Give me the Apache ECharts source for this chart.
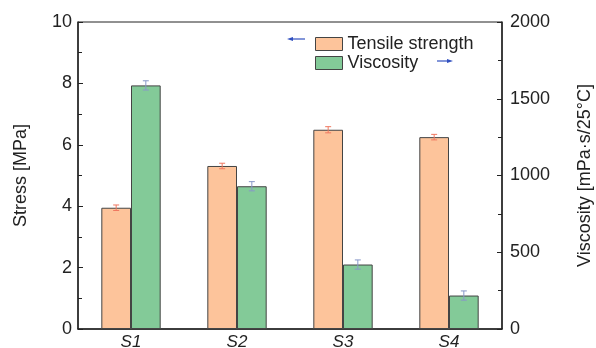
<!DOCTYPE html>
<html><head><meta charset="utf-8">
<script src="https://cdn.jsdelivr.net/npm/echarts@6/dist/echarts.min.js"></script>
<style>html,body{margin:0;padding:0;background:#fff}#c{width:596px;height:348px}</style>
</head><body><div id="c"></div>
<script>
var categories = ['S1', 'S2', 'S3', 'S4'];
var tensile = [3.95, 5.31, 6.49, 6.25];
var tensileErr = [0.09, 0.09, 0.1, 0.09];
var viscosity = [1587, 930, 420, 218];
var viscosityErr = [30, 30, 30, 30];
var leftTicks = [0, 2, 4, 6, 8, 10];
var rightTicks = [0, 500, 1000, 1500, 2000];

var font = 'Liberation Sans, Arial, sans-serif';
var chart = echarts.init(document.getElementById('c'));

function errSeries(vals, errs, axisIdx, sign, color) {
  return {
    type: 'custom', yAxisIndex: axisIdx, z: 10,
    data: vals.map(function (v, i) { return [i, v, errs[i]]; }),
    renderItem: function (params, api) {
      var i = api.value(0), v = api.value(1), e = api.value(2);
      var band = api.size([1, 0])[0];
      var off = sign * band * 0.14;
      var hi = api.coord([i, v + e]), lo = api.coord([i, v - e]);
      var x = hi[0] + off, cap = 3;
      var st = { stroke: color, lineWidth: 1 };
      return { type: 'group', children: [
        { type: 'line', shape: { x1: x, y1: hi[1], x2: x, y2: lo[1] }, style: st },
        { type: 'line', shape: { x1: x - cap, y1: hi[1], x2: x + cap, y2: hi[1] }, style: st },
        { type: 'line', shape: { x1: x - cap, y1: lo[1], x2: x + cap, y2: lo[1] }, style: st }
      ]};
    }
  };
}

function arrow(x1, x2, y) {
  var dir = x2 > x1 ? 1 : -1;
  return { type: 'group', children: [
    { type: 'line', shape: { x1: x1, y1: y, x2: x2 - dir * 4, y2: y }, style: { stroke: '#3050c0', lineWidth: 1.2 } },
    { type: 'polygon', shape: { points: [[x2, y], [x2 - dir * 6, y - 2], [x2 - dir * 6, y + 2]] }, style: { fill: '#3050c0' } }
  ]};
}

chart.setOption({
  animation: false,
  textStyle: { fontFamily: font },
  grid: { left: 78, right: 94, top: 22, bottom: 19, show: true, borderColor: '#222', borderWidth: 1,
    containLabel: false, outerBoundsMode: 'none' },
  legend: {
    orient: 'vertical', left: 310, top: 30, itemWidth: 27, itemHeight: 13, itemGap: 1,
    icon: 'rect',
    textStyle: { fontSize: 18, color: '#222', fontFamily: font },
    itemStyle: { borderColor: '#444', borderWidth: 1 },
    data: ['Tensile strength', 'Viscosity']
  },
  xAxis: {
    type: 'category', data: categories,
    axisLine: { lineStyle: { color: '#222', width: 1.5 } },
    axisTick: { inside: true, length: 3, lineStyle: { color: '#222' } },
    axisLabel: { fontSize: 17, fontStyle: 'italic', color: '#222', margin: 5, fontFamily: font }
  },
  yAxis: [{
    type: 'value', min: 0, max: 10, interval: 2,
    name: 'Stress [MPa]', nameLocation: 'middle', nameGap: 48,
    nameTextStyle: { fontSize: 18, color: '#222', fontFamily: font },
    axisLine: { show: true, lineStyle: { color: '#222', width: 1.5 } },
    axisTick: { show: true, inside: true, length: 5, lineStyle: { color: '#222' } },
    minorTick: { show: true, splitNumber: 2, length: 4, lineStyle: { color: '#222' } },
    splitLine: { show: false },
    axisLabel: { fontSize: 18, color: '#222', margin: 6, fontFamily: font,
      customValues: leftTicks }
  }, {
    type: 'value', min: 0, max: 2000, interval: 500, position: 'right',
    name: 'Viscosity [mPa·s/25°C]', nameLocation: 'middle', nameGap: 74, nameRotate: 90,
    nameTextStyle: { fontSize: 18, color: '#222', fontFamily: font },
    axisLine: { show: true, lineStyle: { color: '#222', width: 1.5 } },
    axisTick: { show: true, inside: true, length: 5, lineStyle: { color: '#222' } },
    minorTick: { show: true, splitNumber: 2, length: 4, lineStyle: { color: '#222' } },
    splitLine: { show: false },
    axisLabel: { fontSize: 18, color: '#222', margin: 8, fontFamily: font,
      customValues: rightTicks, formatter: function (v) { return String(v); } }
  }],
  series: [{
    name: 'Tensile strength', type: 'bar', yAxisIndex: 0, data: tensile,
    barWidth: '28%', barGap: '0%',
    itemStyle: { color: '#FDC49B', borderColor: '#444', borderWidth: 1 }
  }, {
    name: 'Viscosity', type: 'bar', yAxisIndex: 1, data: viscosity,
    barWidth: '28%', barGap: '0%',
    itemStyle: { color: '#83CA98', borderColor: '#444', borderWidth: 1 }
  },
  errSeries(tensile, tensileErr, 0, -1, '#F07860'),
  errSeries(viscosity, viscosityErr, 1, 1, '#8898C8')
  ],
  graphic: [arrow(305, 287, 39), arrow(437, 453, 61)]
});
</script></body></html>
